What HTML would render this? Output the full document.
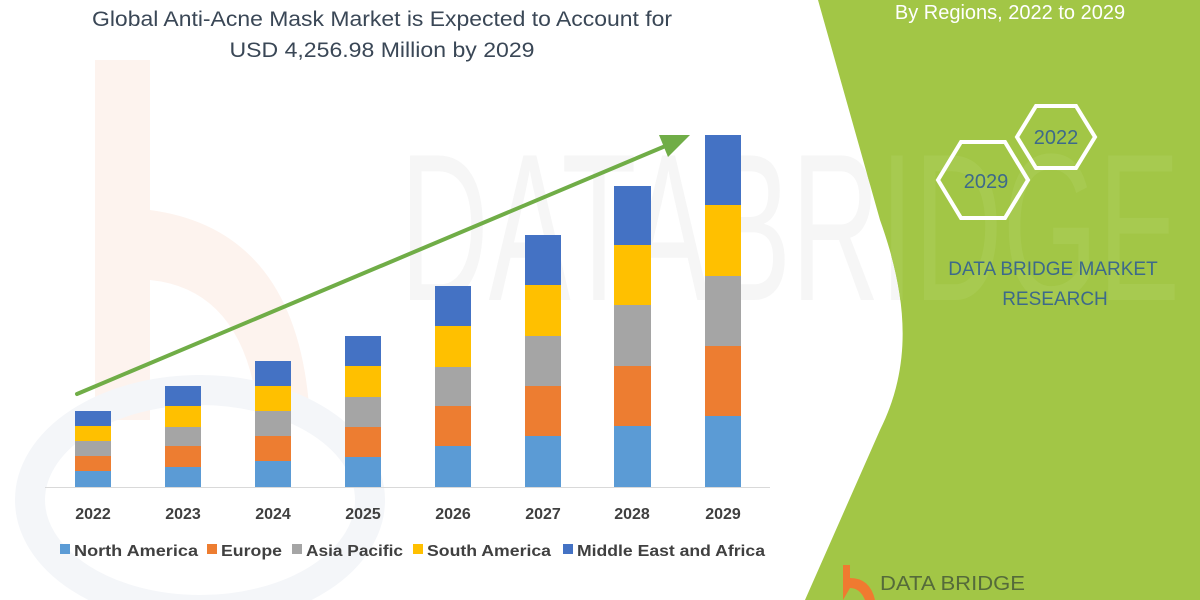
<!DOCTYPE html>
<html><head><meta charset="utf-8"><style>
html,body{margin:0;padding:0;background:#fff;}
svg{display:block;font-family:"Liberation Sans",sans-serif;}
</style></head><body>
<svg width="1200" height="600" viewBox="0 0 1200 600" xmlns="http://www.w3.org/2000/svg">
<defs><clipPath id="g"><path d="M818 0 L1200 0 L1200 600 L805 600 L880 430 C915 360 905 290 880 220 Z"/></clipPath></defs>
<rect width="1200" height="600" fill="#ffffff"/>
<path d="M95 60 L150 60 L150 210 Q300 230 310 420 L260 430 Q250 290 150 280 L150 420 L95 420 Z" fill="#fdf3ee"/>
<ellipse cx="200" cy="500" rx="170" ry="110" fill="none" stroke="#f4f6f9" stroke-width="30"/>
<text x="400" y="300" font-size="210" fill="#f6f6f6" textLength="780" lengthAdjust="spacingAndGlyphs">DATABRIDGE</text>
<path d="M818 0 L1200 0 L1200 600 L805 600 L880 430 C915 360 905 290 880 220 Z" fill="#a2c646"/>
<g clip-path="url(#g)"><text x="400" y="300" font-size="210" fill="#a7ca50" textLength="780" lengthAdjust="spacingAndGlyphs">DATABRIDGE</text></g>
<text x="1010" y="19" font-size="20" fill="#ffffff" text-anchor="middle">By Regions, 2022 to 2029</text>
<polygon points="1017,137 1036,106 1076,106 1095,137 1076,168 1036,168" fill="none" stroke="#fff" stroke-width="4"/>
<text x="1056" y="144" font-size="20" fill="#3d6a8a" text-anchor="middle">2022</text>
<polygon points="938,180 961,142 1005,142 1028,180 1005,218 961,218" fill="none" stroke="#fff" stroke-width="4"/>
<text x="986" y="188" font-size="20" fill="#3d6a8a" text-anchor="middle">2029</text>
<text x="1053" y="275" font-size="19" fill="#3d6a8a" text-anchor="middle">DATA BRIDGE MARKET</text>
<text x="1055" y="305" font-size="19" fill="#3d6a8a" text-anchor="middle">RESEARCH</text>
<path d="M843 565 L850 565 L850 578 Q870 578 875 600 L865 600 Q860 588 850 588 L843 600 Z" fill="#f07a30"/>
<text x="880" y="590" font-size="20" fill="#556b3a" textLength="145" lengthAdjust="spacingAndGlyphs">DATA BRIDGE</text>
<text x="382" y="26" font-size="21" fill="#3a4756" text-anchor="middle" textLength="580" lengthAdjust="spacingAndGlyphs">Global Anti-Acne Mask Market is Expected to Account for</text>
<text x="382" y="57" font-size="21" fill="#3a4756" text-anchor="middle" textLength="305" lengthAdjust="spacingAndGlyphs">USD 4,256.98 Million by 2029</text>
<line x1="45" y1="487.5" x2="770" y2="487.5" stroke="#d9d9d9" stroke-width="1"/>
<g>
<rect x="75" y="471" width="36" height="16" fill="#5b9bd5"/><rect x="75" y="456" width="36" height="15" fill="#ed7d31"/><rect x="75" y="441" width="36" height="15" fill="#a5a5a5"/><rect x="75" y="426" width="36" height="15" fill="#ffc000"/><rect x="75" y="411" width="36" height="15" fill="#4472c4"/>
<rect x="165" y="467" width="36" height="20" fill="#5b9bd5"/><rect x="165" y="446" width="36" height="21" fill="#ed7d31"/><rect x="165" y="427" width="36" height="19" fill="#a5a5a5"/><rect x="165" y="406" width="36" height="21" fill="#ffc000"/><rect x="165" y="386" width="36" height="20" fill="#4472c4"/>
<rect x="255" y="461" width="36" height="26" fill="#5b9bd5"/><rect x="255" y="436" width="36" height="25" fill="#ed7d31"/><rect x="255" y="411" width="36" height="25" fill="#a5a5a5"/><rect x="255" y="386" width="36" height="25" fill="#ffc000"/><rect x="255" y="361" width="36" height="25" fill="#4472c4"/>
<rect x="345" y="457" width="36" height="30" fill="#5b9bd5"/><rect x="345" y="427" width="36" height="30" fill="#ed7d31"/><rect x="345" y="397" width="36" height="30" fill="#a5a5a5"/><rect x="345" y="366" width="36" height="31" fill="#ffc000"/><rect x="345" y="336" width="36" height="30" fill="#4472c4"/>
<rect x="435" y="446" width="36" height="41" fill="#5b9bd5"/><rect x="435" y="406" width="36" height="40" fill="#ed7d31"/><rect x="435" y="367" width="36" height="39" fill="#a5a5a5"/><rect x="435" y="326" width="36" height="41" fill="#ffc000"/><rect x="435" y="286" width="36" height="40" fill="#4472c4"/>
<rect x="525" y="436" width="36" height="51" fill="#5b9bd5"/><rect x="525" y="386" width="36" height="50" fill="#ed7d31"/><rect x="525" y="336" width="36" height="50" fill="#a5a5a5"/><rect x="525" y="285" width="36" height="51" fill="#ffc000"/><rect x="525" y="235" width="36" height="50" fill="#4472c4"/>
<rect x="614" y="426" width="37" height="61" fill="#5b9bd5"/><rect x="614" y="366" width="37" height="60" fill="#ed7d31"/><rect x="614" y="305" width="37" height="61" fill="#a5a5a5"/><rect x="614" y="245" width="37" height="60" fill="#ffc000"/><rect x="614" y="186" width="37" height="59" fill="#4472c4"/>
<rect x="705" y="416" width="36" height="71" fill="#5b9bd5"/><rect x="705" y="346" width="36" height="70" fill="#ed7d31"/><rect x="705" y="276" width="36" height="70" fill="#a5a5a5"/><rect x="705" y="205" width="36" height="71" fill="#ffc000"/><rect x="705" y="135" width="36" height="70" fill="#4472c4"/>
</g>
<line x1="77" y1="394" x2="675" y2="142" stroke="#70ad47" stroke-width="4" stroke-linecap="round"/>
<polygon points="690,135 668,157 659,135" fill="#70ad47"/>
<g font-size="16" font-weight="bold" fill="#404040" text-anchor="middle">
<text x="93" y="519">2022</text><text x="183" y="519">2023</text><text x="273" y="519">2024</text><text x="363" y="519">2025</text><text x="453" y="519">2026</text><text x="543" y="519">2027</text><text x="632" y="519">2028</text><text x="723" y="519">2029</text>
</g>
<g font-size="16" font-weight="bold" fill="#404040">
<rect x="60" y="544" width="10" height="10" fill="#5b9bd5"/><text x="74" y="556" textLength="124" lengthAdjust="spacingAndGlyphs">North America</text>
<rect x="207" y="544" width="10" height="10" fill="#ed7d31"/><text x="221" y="556" textLength="61" lengthAdjust="spacingAndGlyphs">Europe</text>
<rect x="292" y="544" width="10" height="10" fill="#a5a5a5"/><text x="306" y="556" textLength="97" lengthAdjust="spacingAndGlyphs">Asia Pacific</text>
<rect x="413" y="544" width="10" height="10" fill="#ffc000"/><text x="427" y="556" textLength="124" lengthAdjust="spacingAndGlyphs">South America</text>
<rect x="563" y="544" width="10" height="10" fill="#4472c4"/><text x="577" y="556" textLength="188" lengthAdjust="spacingAndGlyphs">Middle East and Africa</text>
</g>
</svg>
</body></html>
